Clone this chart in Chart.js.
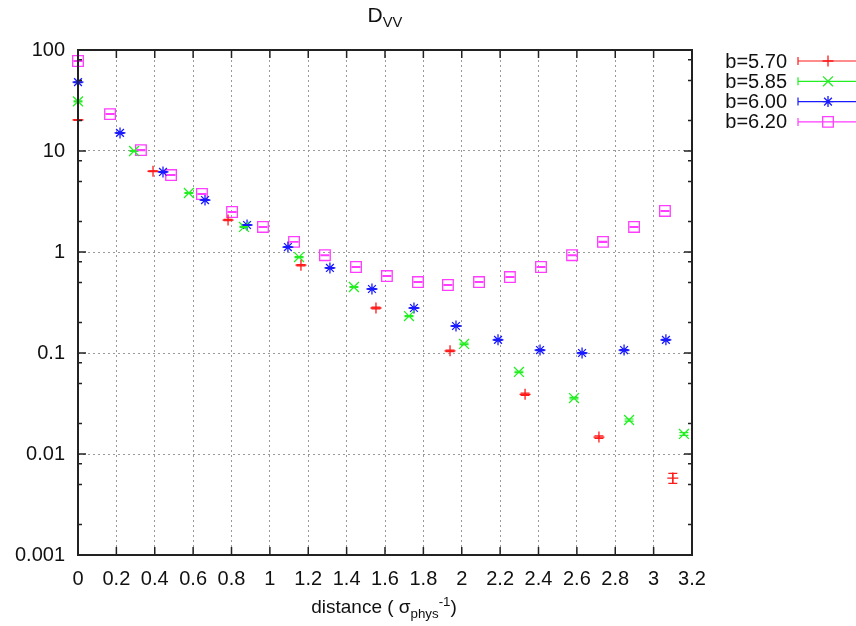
<!DOCTYPE html>
<html>
<head>
<meta charset="utf-8">
<script src="https://cdn.jsdelivr.net/npm/chart.js@4/dist/chart.umd.min.js"></script>
<style>
  body { margin: 0; background: #fff; }
  #wrap { position: relative; width: 856px; height: 626px; overflow: hidden; }
  .lbl { position: absolute; font-family: "Liberation Sans", Arial, sans-serif; color: #111; white-space: nowrap; transform: translateX(-50%); }
  .lbl sub, .lbl sup { font-size: 70%; }
  #title { left: 385px; top: 3px; font-size: 21px; }
  #xtitle { left: 384px; top: 594px; font-size: 19px; }
</style>
</head>
<body>
<div id="wrap">
  <canvas id="dvv" width="856" height="626"></canvas>
  <div id="title" class="lbl">D<sub>VV</sub></div>
  <div id="xtitle" class="lbl">distance ( &sigma;<sub>phys</sub><sup>-1</sup>)</div>
</div>
<script>
// b=5.70
const b570x = [0, 0.391, 0.782, 1.162, 1.553, 1.939, 2.330, 2.715, 3.100];
const b570y = [20.3, 6.3, 2.07, 0.74, 0.279, 0.105, 0.039, 0.0147, 0.00578];
const b570err = [0.2, 0.06, 0.03, 0.012, 0.005, 0.002, 0.001, 0.0004, 0.00065];

// b=5.85
const b585x = [0, 0.292, 0.578, 0.865, 1.152, 1.438, 1.725, 2.012, 2.298, 2.585, 2.872, 3.158];
const b585y = [31, 10, 3.84, 1.77, 0.89, 0.45, 0.232, 0.123, 0.065, 0.0358, 0.0217, 0.0158];
const b585err = [0.3, 0.1, 0.04, 0.02, 0.01, 0.005, 0.003, 0.002, 0.001, 0.0006, 0.0005, 0.0005];

// b=6.00
const b600x = [0, 0.219, 0.443, 0.662, 0.881, 1.094, 1.313, 1.532, 1.751, 1.970, 2.189, 2.408, 2.627, 2.846, 3.064];
const b600y = [48, 15.1, 6.2, 3.27, 1.85, 1.12, 0.695, 0.43, 0.279, 0.185, 0.135, 0.107, 0.1, 0.107, 0.135];
const b600err = [0.4, 0.15, 0.06, 0.03, 0.02, 0.01, 0.007, 0.004, 0.003, 0.002, 0.0015, 0.0012, 0.0012, 0.0013, 0.0016];

// b=6.20
const b620x = [0, 0.167, 0.328, 0.485, 0.646, 0.803, 0.964, 1.126, 1.287, 1.449, 1.610, 1.772, 1.928, 2.090, 2.251, 2.413, 2.575, 2.736, 2.898, 3.059];
const b620y = [77.8, 23.2, 10.2, 5.78, 3.75, 2.49, 1.77, 1.26, 0.93, 0.71, 0.578, 0.504, 0.471, 0.504, 0.565, 0.71, 0.93, 1.26, 1.77, 2.55];
const b620err = [0.6, 0.2, 0.1, 0.05, 0.03, 0.02, 0.015, 0.01, 0.008, 0.006, 0.005, 0.005, 0.005, 0.005, 0.006, 0.007, 0.009, 0.012, 0.018, 0.026];

const xTicks = [0, 0.2, 0.4, 0.6, 0.8, 1, 1.2, 1.4, 1.6, 1.8, 2, 2.2, 2.4, 2.6, 2.8, 3, 3.2];
const xTickLabels = ['0', '0.2', '0.4', '0.6', '0.8', '1', '1.2', '1.4', '1.6', '1.8', '2', '2.2', '2.4', '2.6', '2.8', '3', '3.2'];
const yTicks = [0.001, 0.01, 0.1, 1, 10, 100];
const yTickLabels = ['0.001', '0.01', '0.1', '1', '10', '100'];
const yMinorSteps = [2, 5, 8];

const FONT = '"Liberation Sans", Arial, sans-serif';

function pts(xs, ys, errs) {
    return xs.map((x, i) => ({ x: x, y: ys[i], err: errs[i] }));
}

function series(label, color, style, radius, xs, ys, errs) {
    return {
        label: label,
        data: pts(xs, ys, errs),
        showLine: false,
        pointStyle: style,
        pointRadius: radius,
        pointHoverRadius: radius,
        borderColor: color,
        backgroundColor: 'transparent',
        pointBorderWidth: 1.3,
        clip: false
    };
}

// error bars with small caps, drawn on top of the markers
const errorBars = {
    id: 'errorBars',
    afterDatasetsDraw(chart) {
        const ctx = chart.ctx;
        const ys = chart.scales.y;
        ctx.save();
        ctx.lineWidth = 1.2;
        chart.data.datasets.forEach((ds, i) => {
            const meta = chart.getDatasetMeta(i);
            ctx.strokeStyle = ds.borderColor;
            meta.data.forEach((el, j) => {
                const p = ds.data[j];
                const top = ys.getPixelForValue(p.y + p.err);
                const bot = ys.getPixelForValue(p.y - p.err);
                ctx.beginPath();
                ctx.moveTo(el.x, top); ctx.lineTo(el.x, bot);
                ctx.moveTo(el.x - 4.5, top); ctx.lineTo(el.x + 4.5, top);
                ctx.moveTo(el.x - 4.5, bot); ctx.lineTo(el.x + 4.5, bot);
                ctx.stroke();
            });
        });
        ctx.restore();
    }
};

// frame with inward ticks on all four sides
const frame = {
    id: 'frame',
    afterDraw(chart) {
        const ctx = chart.ctx;
        const a = chart.chartArea;
        const xs = chart.scales.x, ys = chart.scales.y;
        ctx.save();
        ctx.strokeStyle = '#222';
        ctx.lineWidth = 1.5;
        ctx.beginPath();
        xTicks.forEach(v => {
            const px = xs.getPixelForValue(v);
            ctx.moveTo(px, a.bottom); ctx.lineTo(px, a.bottom - 8);
            ctx.moveTo(px, a.top); ctx.lineTo(px, a.top + 8);
        });
        yTicks.forEach(v => {
            const py = ys.getPixelForValue(v);
            ctx.moveTo(a.left, py); ctx.lineTo(a.left + 8, py);
            ctx.moveTo(a.right, py); ctx.lineTo(a.right - 8, py);
            if (v < 100) {
                yMinorSteps.forEach(m => {
                    const q = ys.getPixelForValue(v * m);
                    ctx.moveTo(a.left, q); ctx.lineTo(a.left + 4, q);
                    ctx.moveTo(a.right, q); ctx.lineTo(a.right - 4, q);
                });
            }
        });
        ctx.stroke();
        ctx.lineWidth = 2;
        ctx.strokeRect(a.left, a.top, a.right - a.left, a.bottom - a.top);
        ctx.restore();
    }
};

// key on the right: label, then a sample error bar with the marker
const sideKey = {
    id: 'sideKey',
    afterDraw(chart) {
        const ctx = chart.ctx;
        ctx.save();
        ctx.font = '20px ' + FONT;
        ctx.textAlign = 'right';
        ctx.textBaseline = 'middle';
        chart.data.datasets.forEach((ds, i) => {
            const y = 61 + i * 20.3;
            ctx.fillStyle = '#111';
            ctx.fillText(ds.label, 787, y + 1);
            ctx.strokeStyle = ds.borderColor;
            ctx.fillStyle = 'rgba(0,0,0,0)';
            ctx.lineWidth = 1.2;
            ctx.beginPath();
            ctx.moveTo(798, y); ctx.lineTo(860, y);
            ctx.moveTo(798, y - 4); ctx.lineTo(798, y + 4);
            ctx.stroke();
            ctx.lineWidth = 1.3;
            Chart.helpers.drawPoint(ctx, {
                pointStyle: ds.pointStyle, radius: ds.pointRadius, rotation: 0, borderWidth: 1.3
            }, 828, y);
        });
        ctx.restore();
    }
};

new Chart(document.getElementById('dvv'), {
    type: 'scatter',
    data: {
        datasets: [
            series('b=5.70', '#ff1a1a', 'cross', 5.5, b570x, b570y, b570err),
            series('b=5.85', '#22ee22', 'crossRot', 7, b585x, b585y, b585err),
            series('b=6.00', '#1a1aff', 'star', 5.5, b600x, b600y, b600err),
            series('b=6.20', '#ff3cff', 'rect', 7.5, b620x, b620y, b620err)
        ]
    },
    options: {
        responsive: false,
        animation: false,
        devicePixelRatio: 1,
        layout: { padding: { top: 50, right: 164, bottom: 0, left: 0 } },
        plugins: {
            legend: { display: false },
            tooltip: { enabled: false },
            title: { display: false }
        },
        scales: {
            x: {
                type: 'linear',
                min: 0,
                max: 3.2,
                afterBuildTicks: s => { s.ticks = xTicks.map(v => ({ value: v })); },
                afterFit: s => { s.height = 71; },
                ticks: {
                    autoSkip: false,
                    maxRotation: 0,
                    padding: 12,
                    color: '#111',
                    font: { family: FONT, size: 20 },
                    callback: (v, i) => xTickLabels[i]
                },
                grid: { color: '#9a9a9a', lineWidth: 1, drawTicks: false },
                border: { display: false, dash: [2, 3] }
            },
            y: {
                type: 'logarithmic',
                min: 0.001,
                max: 100,
                afterBuildTicks: s => { s.ticks = yTicks.map(v => ({ value: v })); },
                afterFit: s => { s.width = 78; },
                ticks: {
                    autoSkip: false,
                    padding: 13,
                    color: '#111',
                    font: { family: FONT, size: 20 },
                    callback: (v, i) => yTickLabels[i]
                },
                grid: { color: '#9a9a9a', lineWidth: 1, drawTicks: false },
                border: { display: false, dash: [2, 3] }
            }
        }
    },
    plugins: [errorBars, frame, sideKey]
});
</script>
</body>
</html>
